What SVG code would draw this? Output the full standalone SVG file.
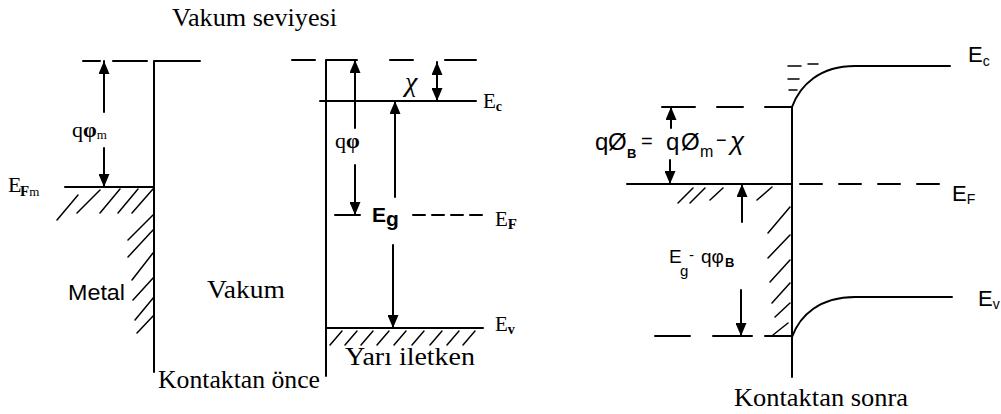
<svg xmlns="http://www.w3.org/2000/svg" width="1001" height="414" viewBox="0 0 1001 414">
<style>
.ln{stroke:#000;stroke-width:2;fill:none;stroke-linecap:round}
.th{stroke:#000;stroke-width:1.5;fill:none;stroke-linecap:round}
.t{font-family:"Liberation Serif",serif;fill:#000}
.s{font-family:"Liberation Sans",sans-serif;fill:#000}
</style>
<defs>
<marker id="ah" viewBox="0 0 10 10" refX="10" refY="5" markerWidth="13" markerHeight="11" markerUnits="userSpaceOnUse" orient="auto-start-reverse" preserveAspectRatio="none"><path d="M0,0 L10,5 L0,10 z" fill="#000"/></marker>
</defs>
<rect width="1001" height="414" fill="#fff"/>

<g id="metal-before">
<path class="ln" d="M83,61 H100 M113,61 H147 M154,61 H200 M154,61 V372 M65,187 H154"/>
<path class="th" d="M57,220 L78,195 M77,213 L100,190 M100,213 L120,189 M118,213 L138,189 M132,213 L153,189 M128,240 L153,215 M128,257 L153,230 M132,280 L153,253 M133,300 L154,277 M135,320 L154,297 M137,333 L154,315"/>
<text class="t" x="8" y="192" font-size="22">E<tspan x="20" y="196" font-size="15" font-weight="bold">F</tspan><tspan font-size="13" y="196">m</tspan></text>
<text class="t" x="72" y="137" font-size="22">q<tspan font-weight="bold">φ</tspan><tspan font-size="13" y="139">m</tspan></text>
<text class="s" x="68" y="300" font-size="22" textLength="57" lengthAdjust="spacingAndGlyphs">Metal</text>
<text class="t" x="207" y="298" font-size="26" textLength="78" lengthAdjust="spacingAndGlyphs">Vakum</text>
</g>

<g id="semiconductor-before">
<path class="ln" d="M292,60 H315 M326,60 V376 M326,60 H357 M390,60 H413 M445,60 H476 M320,101 H476 M335,215 H360 M326,328 H483"/>
<path class="ln" d="M413,215 H482" stroke-dasharray="12,7"/>
<path class="th" d="M330,345 L342,331 M345,345 L357,331 M361,345 L373,331 M377,345 L389,331 M394,345 L406,331 M412,345 L424,331 M430,345 L442,331 M447,345 L459,331 M463,345 L475,331"/>
<text class="t" x="483" y="108" font-size="21">E<tspan font-size="14" y="111" font-weight="bold">c</tspan></text>
<text class="t" x="495" y="226" font-size="21">E<tspan font-size="15" y="229" font-weight="bold">F</tspan></text>
<text class="t" x="495" y="331" font-size="21">E<tspan font-size="14" y="334" font-weight="bold">v</tspan></text>
<text class="t" x="335" y="148" font-size="22">q<tspan font-weight="bold">φ</tspan></text>
<text class="t" x="405" y="91" font-size="28" font-style="italic">χ</text>
<text class="s" x="372" y="222" font-size="21" font-weight="bold">E<tspan y="226">g</tspan></text>
<text class="t" x="345" y="365" font-size="25" textLength="130" lengthAdjust="spacingAndGlyphs">Yarı iletken</text>
</g>

<g id="after-contact">
<path class="ln" d="M662,107 H695 M717,107 H743 M765,107 H792 M792,107 V377 M792,107 C800,85 820,66 855,66 H950 M792,337 C800,315 820,297 855,297 H952 M627,184 H792 M655,336 H690 M713,336 H752 M765,336 H792"/>
<path class="ln" d="M800,184 H942" stroke-dasharray="22,17"/>
<path class="th" d="M788,66 H801 M808,64 H818 M788,79 H799 M789,90 H797"/>
<path class="th" d="M678,203 L693,188 M690,203 L705,188 M710,200 L723,188 M757,200 L772,187 M768,233 L790,207 M768,258 L790,235 M770,282 L790,260 M772,303 L790,283 M775,317 L790,303 M773,335 L788,323"/>
<text class="s" x="968" y="62" font-size="22">E<tspan font-size="14" y="66">c</tspan></text>
<text class="s" x="952" y="201" font-size="22">E<tspan font-size="14" y="204">F</tspan></text>
<text class="s" x="978" y="306" font-size="22">E<tspan font-size="14" y="309">v</tspan></text>
<text class="s" font-size="24"><tspan x="595" y="150">q</tspan><tspan x="608" y="150">Ø</tspan><tspan x="627" y="158" font-size="13" font-weight="bold">B</tspan><tspan x="641" y="148" font-size="20">=</tspan><tspan x="666" y="150">q</tspan><tspan x="681" y="150">Ø</tspan><tspan x="700" y="157" font-size="16">m</tspan><tspan x="716" y="146" font-size="18">−</tspan><tspan x="730" y="150" font-style="italic" font-size="26">χ</tspan></text>
<text class="s" font-size="19"><tspan x="669" y="263">E</tspan><tspan x="680" y="276" font-size="15">g</tspan><tspan x="689" y="260" font-size="15">-</tspan><tspan x="701" y="263">qφ</tspan><tspan x="725" y="267" font-size="13" font-weight="bold">B</tspan></text>
</g>

<g id="titles">
<text class="t" x="172" y="26" font-size="25" textLength="165" lengthAdjust="spacingAndGlyphs">Vakum seviyesi</text>
<text class="t" x="158" y="388" font-size="25" textLength="162" lengthAdjust="spacingAndGlyphs">Kontaktan önce</text>
<text class="t" x="734" y="406" font-size="26" textLength="174" lengthAdjust="spacingAndGlyphs">Kontaktan sonra</text>
</g>

<g id="connectors">
<path class="ln" d="M104,61 V112" marker-start="url(#ah)"/>
<path class="ln" d="M104,148 V187" marker-end="url(#ah)"/>
<path class="ln" d="M355,60 V128" marker-start="url(#ah)"/>
<path class="ln" d="M355,165 V215" marker-end="url(#ah)"/>
<path class="ln" d="M437,62 V101" marker-start="url(#ah)" marker-end="url(#ah)"/>
<path class="ln" d="M395,101 V197" marker-start="url(#ah)"/>
<path class="ln" d="M393,245 V328" marker-end="url(#ah)"/>
<path class="ln" d="M671,107 V128" marker-start="url(#ah)"/>
<path class="ln" d="M670,160 V184" marker-end="url(#ah)"/>
<path class="ln" d="M742,184 V222" marker-start="url(#ah)"/>
<path class="ln" d="M741,290 V336" marker-end="url(#ah)"/>
</g>
</svg>
